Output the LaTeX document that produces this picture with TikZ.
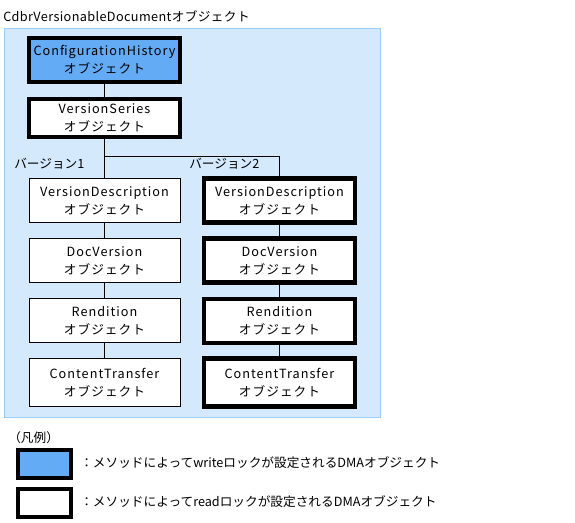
\documentclass[tikz,border=0pt]{standalone}
\usepackage{fontspec}
\setmainfont{Noto Sans CJK JP}
\newfontfamily\spaced[LetterSpace=8]{Noto Sans CJK JP}
\newfontfamily\lightspaced[LetterSpace=3]{Noto Sans CJK JP}
\definecolor{panelfill}{RGB}{213,233,253}
\definecolor{paneldraw}{RGB}{155,205,250}
\definecolor{writefill}{RGB}{100,171,246}
\begin{document}
\begin{tikzpicture}[x=0.75pt,y=-0.75pt,
  font={\fontsize{9.5}{13.5}\selectfont},
  obj/.style={draw=black,fill=white,line width=0.75pt,align=center,inner sep=0pt,
    minimum width=113.25pt,minimum height=33pt,font={\spaced\fontsize{9.5}{13.5}\selectfont}},
  lockobj/.style={obj,line width=3.2pt},
  wobj/.style={lockobj,fill=writefill},
  conn/.style={draw=black,line width=0.75pt},
  lbl/.style={anchor=west,inner sep=0pt}]
\useasboundingbox (0,0) rectangle (575,523);
\node[lbl,font={\lightspaced\fontsize{9.5}{13.5}\selectfont}] (title) at (3,16) {CdbrVersionableDocumentオブジェクト};
\draw[fill=panelfill,draw=paneldraw,line width=0.75pt] (4.5,28.5) rectangle (380,418);
% top chain
\node[wobj] (ch) at (104.5,60) {ConfigurationHistory\\オブジェクト};
\node[lockobj,minimum height=28.5pt] (vs) at (104.5,118) {VersionSeries\\オブジェクト};
% left column
\node[obj] (vd1) at (104.5,200.5) {VersionDescription\\オブジェクト};
\node[obj] (dv1) at (104.5,260.5) {DocVersion\\オブジェクト};
\node[obj] (rd1) at (104.5,321) {Rendition\\オブジェクト};
\node[obj,minimum height=36pt] (ct1) at (104.5,382.5) {ContentTransfer\\オブジェクト};
% right column
\node[lockobj] (vd2) at (279.5,200.5) {VersionDescription\\オブジェクト};
\node[lockobj] (dv2) at (279.5,260.5) {DocVersion\\オブジェクト};
\node[lockobj] (rd2) at (279.5,321) {Rendition\\オブジェクト};
\node[lockobj,minimum height=36pt] (ct2) at (279.5,382.5) {ContentTransfer\\オブジェクト};
\coordinate (br) at (104.5,157);
% connectors
\draw[conn] (ch) -- (vs);
\draw[conn] (vs) -- (vd1);
\draw[conn] (br) -| (vd2);
\draw[conn] (vd1) -- (dv1);
\draw[conn] (dv1) -- (rd1);
\draw[conn] (rd1) -- (ct1);
\draw[conn] (vd2) -- (dv2);
\draw[conn] (dv2) -- (rd2);
\draw[conn] (rd2) -- (ct2);
% branch labels
\node[lbl] (v1) at (14,164) {バージョン1};
\node[lbl] (v2) at (189,164) {バージョン2};
% legend
\node[lbl] (leg) at (8,438) {（凡例）};
\node[wobj,minimum width=39.75pt,minimum height=21pt] (lw) at (44.5,464) {};
\node[lockobj,minimum width=39.75pt,minimum height=21pt] (lr) at (44.5,503) {};
\node[lbl] (lwt) at (80,463) {：メソッドによってwriteロックが設定されるDMAオブジェクト};
\node[lbl] (lrt) at (80,502) {：メソッドによってreadロックが設定されるDMAオブジェクト};
\end{tikzpicture}
\end{document}
